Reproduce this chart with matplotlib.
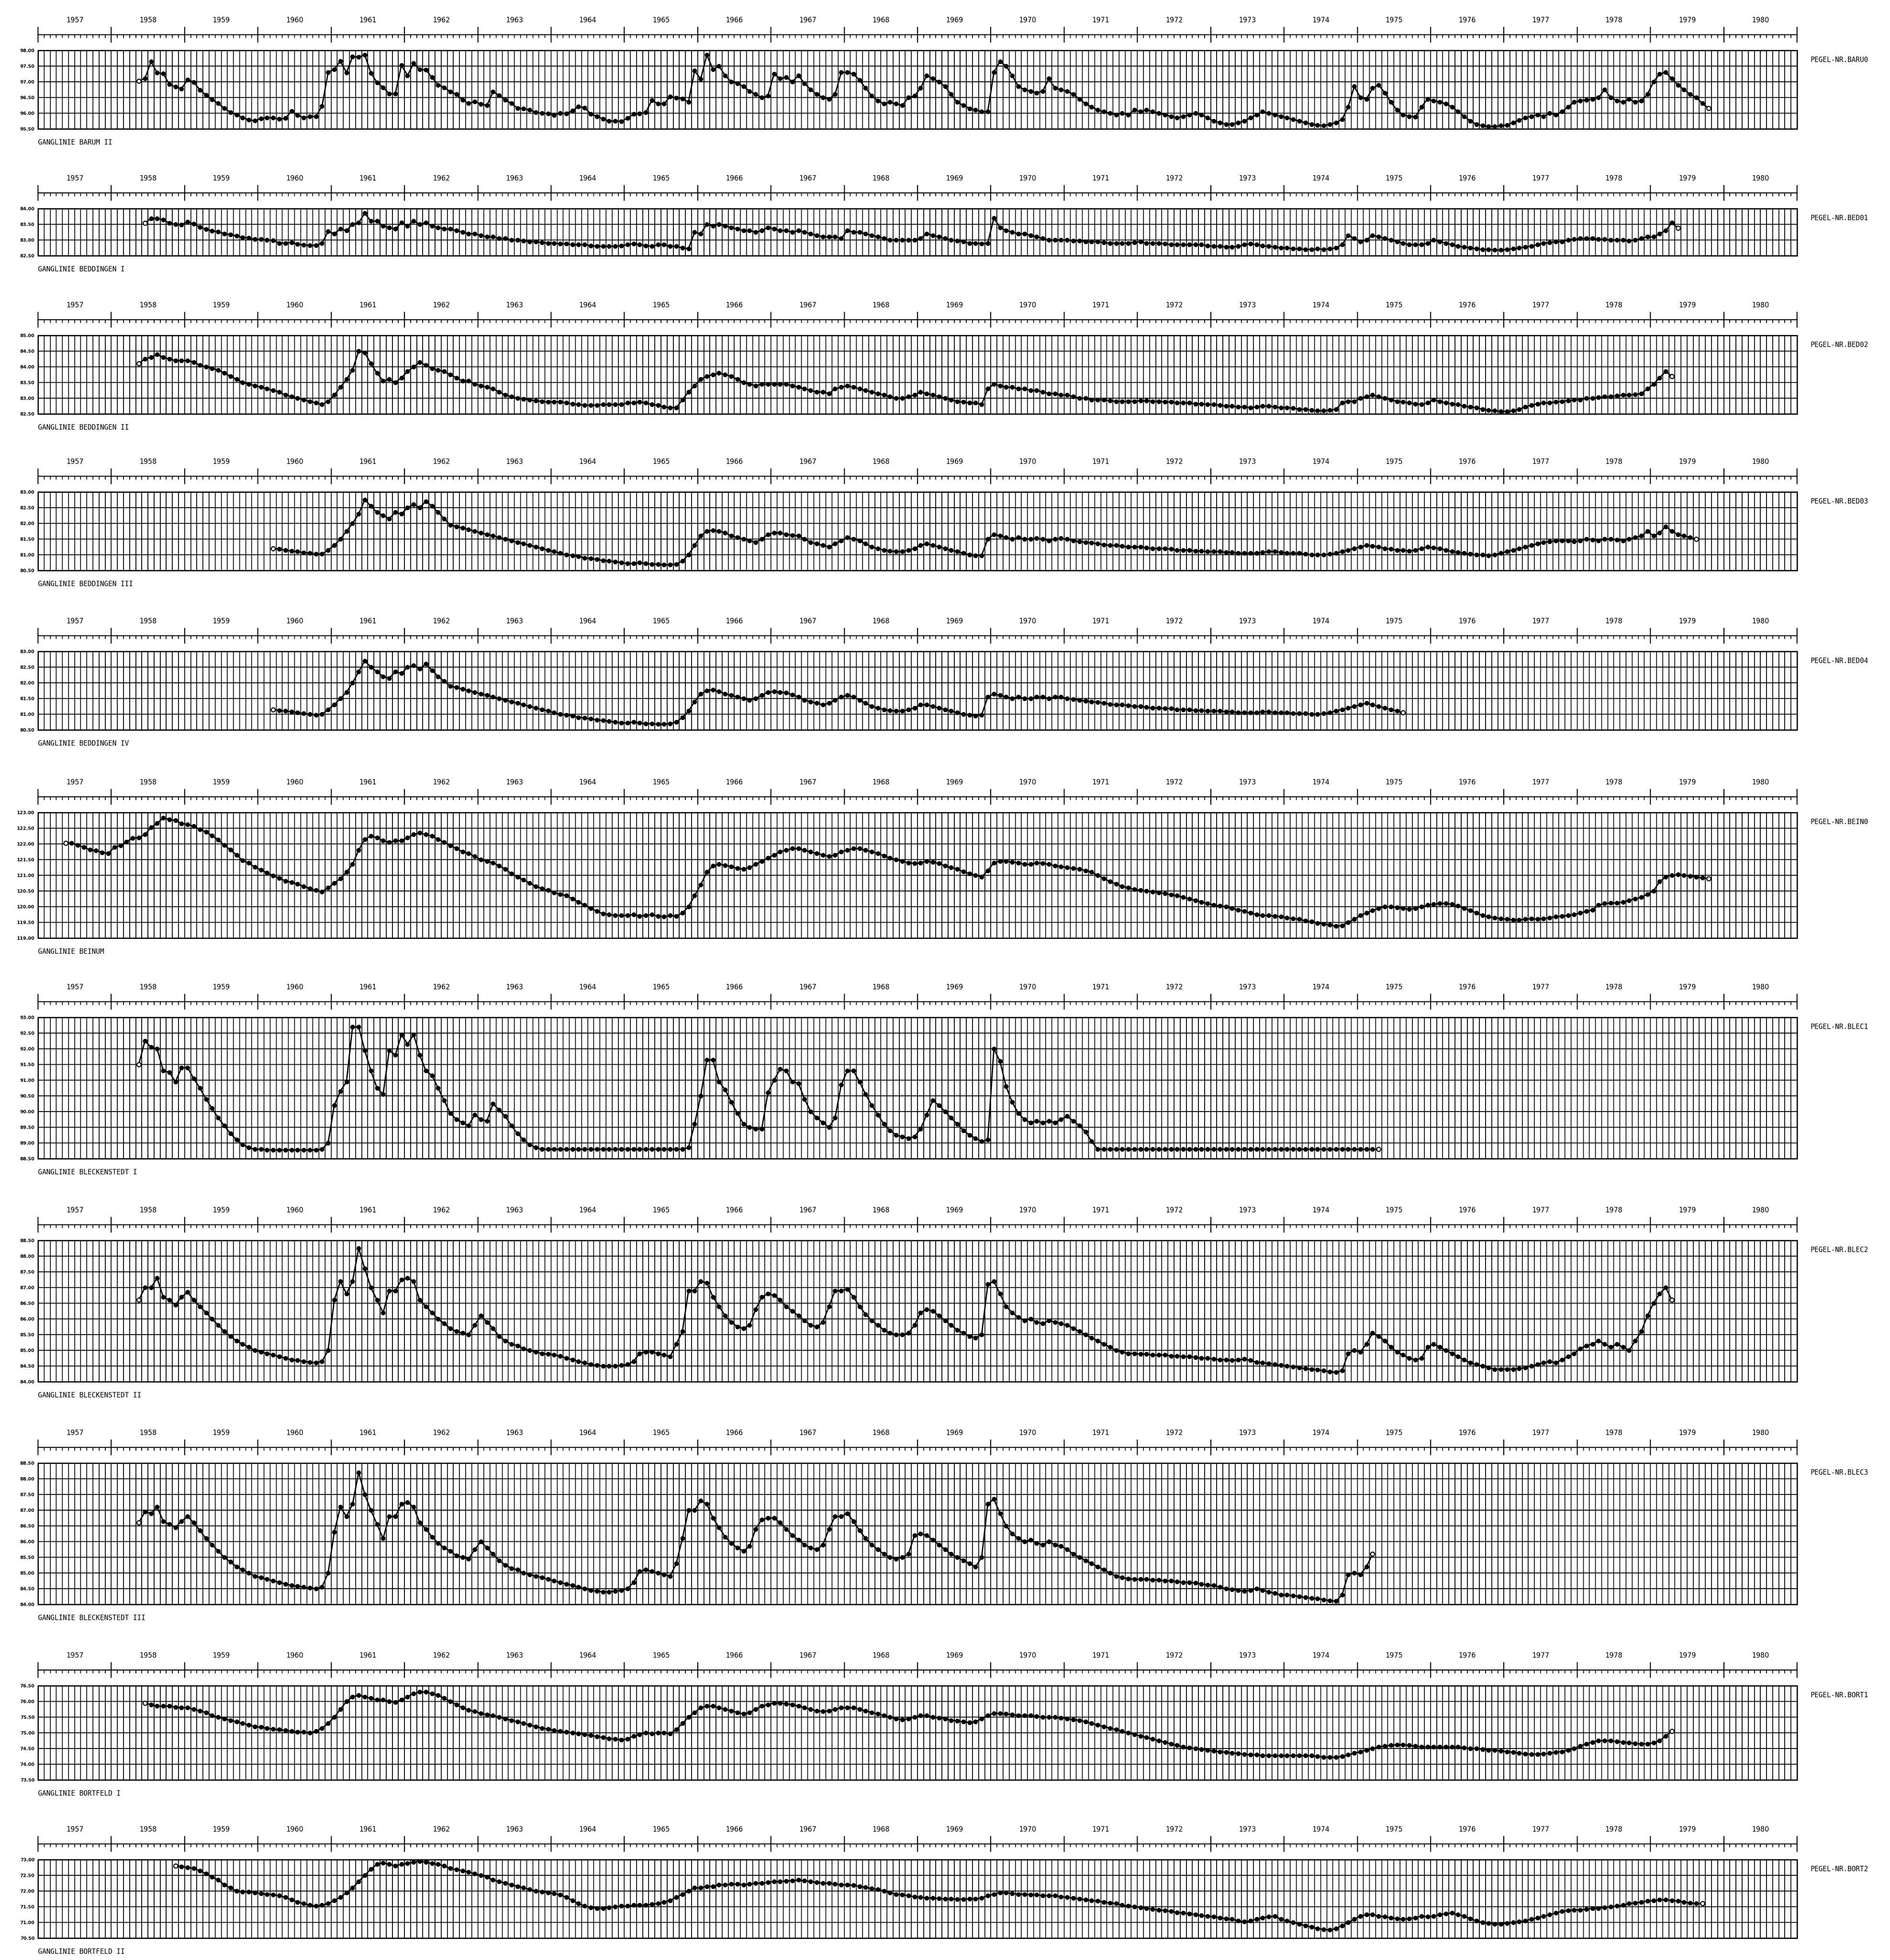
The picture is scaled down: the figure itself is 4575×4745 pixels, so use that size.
import matplotlib
matplotlib.use("Agg")
import matplotlib.pyplot as plt
from matplotlib.ticker import MultipleLocator, FormatStrFormatter
import numpy as np

plt.rcParams['font.family'] = ['DejaVu Sans']

years = list(range(1957, 1981))

# ---- data: monthly water levels, start = (year, month of first value) ----
baru0_start = (1958, 5)
baru0 = [
    97.03, 97.10, 97.64, 97.29, 97.26, 96.92, 96.84, 96.78,
    97.07, 96.99, 96.74, 96.58, 96.44, 96.31, 96.16, 96.03, 95.95, 95.86, 95.79, 95.76,
    95.83, 95.86, 95.85, 95.81, 95.84, 96.06, 95.93, 95.86, 95.89, 95.90, 96.22, 97.30,
    97.40, 97.66, 97.29, 97.80, 97.79, 97.86, 97.28, 96.98, 96.82, 96.62, 96.62, 97.53,
    97.20, 97.59, 97.39, 97.38, 97.14, 96.90, 96.82, 96.68, 96.60, 96.42, 96.31, 96.37,
    96.29, 96.25, 96.68, 96.57, 96.42, 96.31, 96.16, 96.14, 96.11, 96.02, 96.00, 95.99,
    95.94, 96.00, 95.99, 96.08, 96.21, 96.17, 95.98, 95.90, 95.82, 95.75, 95.75, 95.74,
    95.84, 95.97, 95.99, 96.02, 96.41, 96.30, 96.30, 96.53, 96.49, 96.46, 96.36, 97.35,
    97.09, 97.85, 97.40, 97.50, 97.20, 97.00, 96.95, 96.85, 96.70, 96.60, 96.50, 96.55,
    97.25, 97.10, 97.15, 97.00, 97.20, 96.95, 96.75, 96.60, 96.50, 96.45, 96.60, 97.30,
    97.30, 97.25, 97.05, 96.80, 96.55, 96.40, 96.30, 96.35, 96.30, 96.25, 96.50, 96.55,
    96.80, 97.20, 97.10, 97.00, 96.85, 96.60, 96.35, 96.25, 96.15, 96.10, 96.05, 96.05,
    97.30, 97.65, 97.50, 97.20, 96.85, 96.75, 96.70, 96.65, 96.70, 97.10, 96.80, 96.75,
    96.70, 96.60, 96.45, 96.30, 96.20, 96.10, 96.05, 96.00, 95.95, 96.00, 95.95, 96.10,
    96.05, 96.10, 96.05, 96.00, 95.95, 95.90, 95.85, 95.90, 95.95, 96.00, 95.95, 95.85,
    95.75, 95.70, 95.65, 95.65, 95.70, 95.75, 95.85, 95.95, 96.05, 96.00, 95.95, 95.90,
    95.85, 95.80, 95.75, 95.70, 95.65, 95.62, 95.60, 95.65, 95.70, 95.80, 96.20, 96.85,
    96.50, 96.45, 96.80, 96.90, 96.65, 96.35, 96.10, 95.95, 95.90, 95.88, 96.20, 96.45,
    96.40, 96.35, 96.30, 96.20, 96.05, 95.90, 95.75, 95.65, 95.60, 95.58, 95.58, 95.60,
    95.62, 95.70, 95.78, 95.85, 95.90, 95.95, 95.90, 96.00, 95.95, 96.05, 96.20, 96.35,
    96.40, 96.42, 96.45, 96.50, 96.75, 96.50, 96.40, 96.35, 96.45, 96.35, 96.40, 96.60,
    97.00, 97.25, 97.30, 97.10, 96.90, 96.75, 96.60, 96.50, 96.31, 96.16,
]

bed01_start = (1958, 6)
bed01 = [
    83.54, 83.69, 83.69, 83.64, 83.54, 83.50, 83.49,
    83.58, 83.51, 83.41, 83.34, 83.29, 83.26, 83.20, 83.17, 83.13, 83.08, 83.07, 83.02,
    83.02, 83.00, 82.99, 82.90, 82.90, 82.92, 82.87, 82.84, 82.83, 82.83, 82.90, 83.27,
    83.20, 83.35, 83.30, 83.50, 83.55, 83.85, 83.60, 83.60, 83.45, 83.40, 83.35, 83.55,
    83.45, 83.60, 83.50, 83.55, 83.45, 83.40, 83.35, 83.35, 83.30, 83.25, 83.20, 83.20,
    83.15, 83.10, 83.10, 83.05, 83.05, 83.00, 83.00, 82.98, 82.95, 82.95, 82.92, 82.90,
    82.90, 82.88, 82.88, 82.85, 82.85, 82.85, 82.82, 82.80, 82.80, 82.80, 82.80, 82.82,
    82.85, 82.88, 82.85, 82.82, 82.80, 82.85, 82.85, 82.80, 82.80, 82.75, 82.72, 83.25,
    83.20, 83.50, 83.45, 83.50, 83.45, 83.40, 83.35, 83.30, 83.30, 83.25, 83.30, 83.40,
    83.35, 83.30, 83.30, 83.25, 83.30, 83.25, 83.20, 83.15, 83.10, 83.10, 83.10, 83.05,
    83.30, 83.25, 83.25, 83.20, 83.15, 83.10, 83.05, 83.00, 83.00, 83.00, 83.00, 83.00,
    83.05, 83.20, 83.15, 83.10, 83.05, 83.00, 82.98, 82.95, 82.90, 82.90, 82.88, 82.90,
    83.70, 83.40, 83.30, 83.25, 83.20, 83.20, 83.15, 83.10, 83.05, 83.00, 83.00, 83.00,
    83.00, 82.98, 82.98, 82.95, 82.95, 82.95, 82.92, 82.90, 82.90, 82.90, 82.90, 82.92,
    82.95, 82.90, 82.90, 82.90, 82.88, 82.85, 82.85, 82.85, 82.85, 82.85, 82.85, 82.82,
    82.80, 82.80, 82.78, 82.78, 82.80, 82.85, 82.88, 82.85, 82.82, 82.80, 82.78, 82.75,
    82.75, 82.72, 82.72, 82.70, 82.70, 82.72, 82.70, 82.72, 82.75, 82.85, 83.15, 83.05,
    82.95, 83.00, 83.15, 83.10, 83.05, 83.00, 82.95, 82.90, 82.85, 82.85, 82.85, 82.90,
    83.00, 82.95, 82.90, 82.85, 82.80, 82.78, 82.75, 82.72, 82.70, 82.70, 82.68, 82.68,
    82.70, 82.72, 82.75, 82.78, 82.80, 82.85, 82.90, 82.92, 82.95, 82.95, 83.00, 83.02,
    83.05, 83.05, 83.05, 83.02, 83.02, 83.00, 83.00, 83.00, 82.98, 83.00, 83.05, 83.10,
    83.10, 83.20, 83.30, 83.55, 83.38,
]

bed02_start = (1958, 5)
bed02 = [
    84.10, 84.25, 84.30, 84.40, 84.30, 84.25, 84.20, 84.20,
    84.20, 84.15, 84.05, 84.00, 83.95, 83.90, 83.80, 83.70, 83.60, 83.50, 83.45, 83.40,
    83.35, 83.30, 83.25, 83.20, 83.10, 83.05, 83.00, 82.95, 82.90, 82.85, 82.80, 82.90,
    83.10, 83.35, 83.60, 83.90, 84.50, 84.45, 84.10, 83.80, 83.55, 83.60, 83.50, 83.65,
    83.85, 84.00, 84.15, 84.05, 83.95, 83.90, 83.85, 83.75, 83.65, 83.55, 83.55, 83.45,
    83.40, 83.35, 83.30, 83.20, 83.10, 83.05, 83.00, 82.98, 82.95, 82.92, 82.90, 82.88,
    82.88, 82.88, 82.85, 82.82, 82.80, 82.78, 82.78, 82.78, 82.80, 82.80, 82.80, 82.80,
    82.85, 82.85, 82.88, 82.85, 82.80, 82.78, 82.72, 82.70, 82.70, 82.95, 83.20, 83.40,
    83.60, 83.70, 83.75, 83.80, 83.75, 83.70, 83.60, 83.50, 83.45, 83.40, 83.45, 83.45,
    83.45, 83.45, 83.45, 83.40, 83.35, 83.30, 83.25, 83.20, 83.20, 83.15, 83.30, 83.35,
    83.40, 83.35, 83.30, 83.25, 83.20, 83.15, 83.10, 83.05, 83.00, 83.00, 83.05, 83.10,
    83.20, 83.15, 83.10, 83.05, 83.00, 82.95, 82.90, 82.88, 82.85, 82.85, 82.80, 83.30,
    83.45, 83.40, 83.35, 83.35, 83.30, 83.30, 83.25, 83.25, 83.20, 83.15, 83.15, 83.10,
    83.10, 83.05, 83.00, 83.00, 82.95, 82.95, 82.95, 82.92, 82.90, 82.90, 82.90, 82.90,
    82.92, 82.92, 82.90, 82.90, 82.88, 82.88, 82.85, 82.85, 82.85, 82.82, 82.82, 82.80,
    82.80, 82.78, 82.75, 82.75, 82.72, 82.72, 82.70, 82.72, 82.75, 82.75, 82.72, 82.70,
    82.70, 82.68, 82.65, 82.65, 82.62, 82.60, 82.60, 82.62, 82.65, 82.85, 82.90, 82.90,
    83.00, 83.05, 83.10, 83.05, 83.00, 82.95, 82.90, 82.88, 82.85, 82.82, 82.80, 82.85,
    82.95, 82.90, 82.85, 82.82, 82.80, 82.75, 82.72, 82.70, 82.65, 82.62, 82.60, 82.58,
    82.58, 82.60, 82.65, 82.72, 82.78, 82.82, 82.85, 82.85, 82.88, 82.90, 82.92, 82.95,
    82.95, 83.00, 83.00, 83.02, 83.05, 83.05, 83.08, 83.10, 83.10, 83.12, 83.15, 83.30,
    83.45, 83.65, 83.85, 83.70,
]

bed03_start = (1960, 3)
bed03 = [
    81.20, 81.18, 81.15, 81.12, 81.10, 81.07, 81.05, 81.03, 81.02, 81.15,
    81.30, 81.50, 81.75, 82.00, 82.30, 82.75, 82.55, 82.35, 82.25, 82.15, 82.35, 82.30,
    82.50, 82.60, 82.50, 82.70, 82.55, 82.35, 82.15, 81.95, 81.90, 81.85, 81.80, 81.75,
    81.70, 81.65, 81.60, 81.55, 81.50, 81.45, 81.40, 81.35, 81.30, 81.25, 81.20, 81.15,
    81.10, 81.05, 81.00, 80.98, 80.95, 80.90, 80.88, 80.85, 80.82, 80.80, 80.78, 80.75,
    80.72, 80.72, 80.75, 80.72, 80.70, 80.70, 80.68, 80.68, 80.70, 80.80, 81.00, 81.30,
    81.60, 81.75, 81.78, 81.75, 81.70, 81.60, 81.55, 81.50, 81.45, 81.40, 81.50, 81.65,
    81.70, 81.70, 81.65, 81.62, 81.60, 81.50, 81.40, 81.35, 81.30, 81.25, 81.35, 81.45,
    81.55, 81.50, 81.45, 81.35, 81.25, 81.20, 81.15, 81.12, 81.10, 81.10, 81.15, 81.20,
    81.30, 81.35, 81.30, 81.25, 81.20, 81.15, 81.10, 81.05, 81.00, 80.98, 80.98, 81.50,
    81.65, 81.60, 81.55, 81.50, 81.55, 81.50, 81.50, 81.52, 81.50, 81.45, 81.50, 81.52,
    81.50, 81.45, 81.42, 81.40, 81.38, 81.35, 81.32, 81.30, 81.30, 81.28, 81.25, 81.25,
    81.25, 81.22, 81.20, 81.20, 81.20, 81.18, 81.15, 81.15, 81.15, 81.12, 81.12, 81.10,
    81.10, 81.10, 81.08, 81.08, 81.05, 81.05, 81.05, 81.05, 81.08, 81.10, 81.10, 81.08,
    81.05, 81.05, 81.05, 81.02, 81.00, 81.00, 81.00, 81.02, 81.05, 81.10, 81.15, 81.20,
    81.25, 81.30, 81.28, 81.25, 81.20, 81.18, 81.15, 81.15, 81.12, 81.15, 81.20, 81.25,
    81.22, 81.20, 81.15, 81.10, 81.08, 81.05, 81.02, 81.00, 81.00, 80.98, 81.00, 81.05,
    81.10, 81.15, 81.20, 81.25, 81.30, 81.35, 81.40, 81.42, 81.45, 81.45, 81.45, 81.42,
    81.45, 81.50, 81.48, 81.45, 81.50, 81.50, 81.48, 81.45, 81.50, 81.55, 81.60, 81.75,
    81.60, 81.70, 81.90, 81.75, 81.65, 81.60, 81.55, 81.50,
]

bed04_start = (1960, 3)
bed04 = [
    81.15, 81.12, 81.10, 81.08, 81.05, 81.02, 81.00, 80.98, 81.00, 81.15,
    81.30, 81.50, 81.70, 82.00, 82.35, 82.70, 82.50, 82.35, 82.20, 82.15, 82.35, 82.30,
    82.50, 82.55, 82.45, 82.60, 82.40, 82.20, 82.05, 81.90, 81.85, 81.80, 81.75, 81.70,
    81.65, 81.60, 81.55, 81.50, 81.45, 81.40, 81.35, 81.30, 81.25, 81.20, 81.15, 81.10,
    81.05, 81.00, 80.98, 80.95, 80.90, 80.88, 80.85, 80.82, 80.80, 80.78, 80.75, 80.72,
    80.72, 80.75, 80.72, 80.70, 80.70, 80.68, 80.68, 80.70, 80.75, 80.90, 81.10, 81.40,
    81.65, 81.75, 81.78, 81.72, 81.65, 81.60, 81.55, 81.50, 81.45, 81.50, 81.60, 81.70,
    81.72, 81.70, 81.68, 81.62, 81.55, 81.45, 81.40, 81.35, 81.30, 81.35, 81.45, 81.55,
    81.60, 81.55, 81.45, 81.35, 81.25, 81.20, 81.15, 81.12, 81.10, 81.10, 81.15, 81.20,
    81.30, 81.30, 81.25, 81.20, 81.15, 81.10, 81.05, 81.00, 80.98, 80.95, 80.98, 81.55,
    81.65, 81.60, 81.55, 81.50, 81.55, 81.50, 81.50, 81.55, 81.55, 81.50, 81.55, 81.55,
    81.50, 81.48, 81.45, 81.42, 81.40, 81.38, 81.35, 81.32, 81.30, 81.30, 81.28, 81.25,
    81.25, 81.22, 81.20, 81.20, 81.18, 81.18, 81.15, 81.15, 81.15, 81.12, 81.12, 81.10,
    81.10, 81.10, 81.08, 81.08, 81.05, 81.05, 81.05, 81.05, 81.08, 81.08, 81.05, 81.05,
    81.05, 81.03, 81.02, 81.02, 81.00, 81.00, 81.02, 81.05, 81.10, 81.15, 81.20, 81.25,
    81.30, 81.35, 81.30, 81.25, 81.20, 81.15, 81.10, 81.05,
]

bein0_start = (1957, 5)
bein0 = [
    122.03, 122.03, 121.96, 121.90, 121.81, 121.79, 121.73, 121.70,
    121.89, 121.95, 122.07, 122.18, 122.20, 122.30, 122.52, 122.66, 122.83, 122.78, 122.75, 122.65,
    122.62, 122.56, 122.46, 122.38, 122.26, 122.13, 121.96, 121.81, 121.65, 121.47, 121.39, 121.26,
    121.17, 121.08, 120.99, 120.91, 120.82, 120.78, 120.72, 120.65, 120.58, 120.52, 120.48, 120.60,
    120.75, 120.90, 121.10, 121.35, 121.80, 122.15, 122.25, 122.20, 122.10, 122.05, 122.10, 122.10,
    122.20, 122.30, 122.35, 122.30, 122.25, 122.15, 122.05, 121.95, 121.85, 121.75, 121.70, 121.60,
    121.50, 121.45, 121.40, 121.30, 121.20, 121.05, 120.95, 120.85, 120.75, 120.65, 120.58, 120.52,
    120.45, 120.40, 120.35, 120.25, 120.15, 120.05, 119.95, 119.85, 119.78, 119.75, 119.72, 119.72,
    119.72, 119.75, 119.70, 119.72, 119.75, 119.70, 119.68, 119.72, 119.70, 119.80, 120.00, 120.35,
    120.70, 121.10, 121.30, 121.35, 121.32, 121.28, 121.22, 121.20, 121.25, 121.35, 121.45, 121.55,
    121.65, 121.75, 121.80, 121.85, 121.85, 121.80, 121.75, 121.70, 121.65, 121.60, 121.65, 121.75,
    121.80, 121.85, 121.85, 121.80, 121.75, 121.70, 121.62, 121.55, 121.50, 121.45, 121.40, 121.38,
    121.40, 121.45, 121.42, 121.38, 121.30, 121.25, 121.20, 121.12, 121.05, 121.00, 120.95, 121.15,
    121.40, 121.45, 121.45, 121.42, 121.40, 121.35, 121.35, 121.40, 121.38, 121.35, 121.30, 121.28,
    121.25, 121.22, 121.20, 121.15, 121.10, 121.00, 120.90, 120.80, 120.72, 120.65, 120.60, 120.55,
    120.52, 120.50, 120.48, 120.45, 120.42, 120.38, 120.35, 120.30, 120.25, 120.20, 120.15, 120.10,
    120.05, 120.02, 120.00, 119.95, 119.90, 119.85, 119.80, 119.75, 119.72, 119.72, 119.70, 119.68,
    119.65, 119.62, 119.60, 119.55, 119.52, 119.48, 119.45, 119.42, 119.38, 119.40, 119.50, 119.60,
    119.72, 119.80, 119.88, 119.95, 120.00, 120.00, 119.98, 119.95, 119.92, 119.95, 120.00, 120.05,
    120.08, 120.10, 120.10, 120.08, 120.02, 119.95, 119.88, 119.80, 119.72, 119.68, 119.65, 119.62,
    119.60, 119.58, 119.58, 119.60, 119.62, 119.60, 119.62, 119.65, 119.68, 119.70, 119.72, 119.75,
    119.80, 119.85, 119.90, 120.05, 120.10, 120.12, 120.12, 120.15, 120.20, 120.25, 120.30, 120.40,
    120.50, 120.80, 120.95, 121.00, 121.02, 121.00, 120.98, 120.95, 120.92, 120.90,
]

blec1_start = (1958, 5)
blec1 = [
    91.50, 92.25, 92.05, 92.00, 91.30, 91.25, 90.95, 91.40,
    91.40, 91.05, 90.75, 90.40, 90.10, 89.80, 89.55, 89.30, 89.10, 88.95, 88.85, 88.80,
    88.80, 88.78, 88.78, 88.78, 88.78, 88.78, 88.78, 88.78, 88.78, 88.78, 88.80, 89.00,
    90.20, 90.65, 90.95, 92.70, 92.70, 91.95, 91.30, 90.75, 90.55, 91.95, 91.80, 92.45,
    92.15, 92.45, 91.80, 91.30, 91.15, 90.75, 90.35, 89.95, 89.75, 89.65, 89.55, 89.90,
    89.75, 89.70, 90.25, 90.05, 89.85, 89.55, 89.30, 89.10, 88.95, 88.85, 88.80, 88.80,
    88.80, 88.80, 88.80, 88.80, 88.80, 88.80, 88.80, 88.80, 88.80, 88.80, 88.80, 88.80,
    88.80, 88.80, 88.80, 88.80, 88.80, 88.80, 88.80, 88.80, 88.80, 88.80, 88.85, 89.60,
    90.50, 91.65, 91.65, 90.95, 90.70, 90.30, 89.95, 89.60, 89.50, 89.45, 89.45, 90.60,
    91.00, 91.35, 91.30, 90.95, 90.90, 90.40, 90.00, 89.80, 89.65, 89.50, 89.80, 90.85,
    91.30, 91.30, 90.95, 90.55, 90.20, 89.90, 89.60, 89.40, 89.25, 89.20, 89.15, 89.20,
    89.45, 89.90, 90.35, 90.20, 90.00, 89.80, 89.60, 89.40, 89.25, 89.15, 89.05, 89.10,
    92.00, 91.60, 90.80, 90.30, 89.95, 89.75, 89.65, 89.70, 89.65, 89.70, 89.65, 89.75,
    89.85, 89.70, 89.55, 89.35, 89.05, 88.80, 88.80, 88.80, 88.80, 88.80, 88.80, 88.80,
    88.80, 88.80, 88.80, 88.80, 88.80, 88.80, 88.80, 88.80, 88.80, 88.80, 88.80, 88.80,
    88.80, 88.80, 88.80, 88.80, 88.80, 88.80, 88.80, 88.80, 88.80, 88.80, 88.80, 88.80,
    88.80, 88.80, 88.80, 88.80, 88.80, 88.80, 88.80, 88.80, 88.80, 88.80, 88.80, 88.80,
    88.80, 88.80, 88.80, 88.80,
]

blec2_start = (1958, 5)
blec2 = [
    86.60, 87.00, 87.00, 87.30, 86.70, 86.60, 86.45, 86.70,
    86.85, 86.60, 86.40, 86.20, 86.00, 85.80, 85.60, 85.45, 85.30, 85.20, 85.10, 85.00,
    84.95, 84.90, 84.85, 84.80, 84.75, 84.70, 84.68, 84.65, 84.62, 84.60, 84.65, 85.00,
    86.60, 87.20, 86.80, 87.20, 88.25, 87.60, 87.00, 86.60, 86.20, 86.90, 86.90, 87.25,
    87.30, 87.20, 86.60, 86.40, 86.20, 86.00, 85.85, 85.70, 85.60, 85.55, 85.50, 85.80,
    86.10, 85.90, 85.70, 85.45, 85.30, 85.20, 85.15, 85.05, 85.00, 84.95, 84.90, 84.88,
    84.85, 84.82, 84.75, 84.70, 84.65, 84.60, 84.55, 84.52, 84.50, 84.50, 84.50, 84.52,
    84.55, 84.65, 84.90, 84.95, 84.95, 84.90, 84.85, 84.80, 85.20, 85.60, 86.90, 86.90,
    87.20, 87.15, 86.70, 86.40, 86.10, 85.90, 85.75, 85.70, 85.80, 86.30, 86.70, 86.80,
    86.75, 86.60, 86.40, 86.25, 86.10, 85.95, 85.80, 85.75, 85.90, 86.40, 86.90, 86.90,
    86.95, 86.70, 86.40, 86.15, 85.95, 85.80, 85.65, 85.55, 85.50, 85.50, 85.55, 85.80,
    86.20, 86.30, 86.25, 86.10, 85.95, 85.80, 85.65, 85.55, 85.45, 85.40, 85.50, 87.10,
    87.20, 86.80, 86.40, 86.20, 86.05, 85.95, 86.00, 85.90, 85.85, 85.95, 85.90, 85.85,
    85.80, 85.70, 85.60, 85.50, 85.40, 85.30, 85.20, 85.10, 85.00, 84.95, 84.90, 84.90,
    84.88, 84.88, 84.85, 84.85, 84.85, 84.82, 84.82, 84.80, 84.80, 84.78, 84.75, 84.75,
    84.72, 84.70, 84.70, 84.68, 84.70, 84.72, 84.68, 84.62, 84.60, 84.58, 84.55, 84.52,
    84.50, 84.48, 84.45, 84.42, 84.40, 84.38, 84.35, 84.32, 84.30, 84.35, 84.90, 85.00,
    84.95, 85.20, 85.55, 85.45, 85.30, 85.10, 84.95, 84.85, 84.75, 84.70, 84.75, 85.10,
    85.20, 85.10, 85.00, 84.90, 84.80, 84.70, 84.60, 84.55, 84.50, 84.45, 84.40, 84.40,
    84.40, 84.40, 84.42, 84.45, 84.50, 84.55, 84.60, 84.65, 84.60, 84.70, 84.80, 84.90,
    85.05, 85.15, 85.20, 85.30, 85.20, 85.10, 85.20, 85.10, 85.00, 85.30, 85.60, 86.10,
    86.50, 86.80, 87.00, 86.60,
]

blec3_start = (1958, 5)
blec3 = [
    86.60, 86.95, 86.90, 87.10, 86.65, 86.55, 86.45, 86.65,
    86.80, 86.60, 86.35, 86.10, 85.90, 85.70, 85.50, 85.35, 85.20, 85.10, 85.00, 84.90,
    84.85, 84.80, 84.75, 84.70, 84.65, 84.60, 84.58, 84.55, 84.52, 84.50, 84.55, 85.00,
    86.30, 87.10, 86.80, 87.20, 88.20, 87.50, 87.00, 86.55, 86.10, 86.80, 86.80, 87.20,
    87.25, 87.10, 86.60, 86.40, 86.15, 85.95, 85.80, 85.70, 85.55, 85.50, 85.45, 85.75,
    86.00, 85.80, 85.60, 85.40, 85.25, 85.15, 85.10, 85.00, 84.95, 84.90, 84.85, 84.80,
    84.75, 84.70, 84.65, 84.60, 84.55, 84.50, 84.45, 84.42, 84.40, 84.40, 84.42, 84.45,
    84.50, 84.70, 85.05, 85.10, 85.05, 85.00, 84.95, 84.90, 85.30, 86.10, 87.00, 87.00,
    87.30, 87.20, 86.75, 86.45, 86.15, 85.95, 85.80, 85.70, 85.85, 86.40, 86.70, 86.75,
    86.75, 86.60, 86.40, 86.20, 86.05, 85.90, 85.80, 85.75, 85.90, 86.40, 86.80, 86.80,
    86.90, 86.65, 86.35, 86.10, 85.90, 85.75, 85.60, 85.50, 85.45, 85.50, 85.60, 86.20,
    86.25, 86.20, 86.05, 85.90, 85.75, 85.60, 85.50, 85.40, 85.30, 85.20, 85.50, 87.20,
    87.35, 86.90, 86.50, 86.25, 86.10, 86.00, 86.05, 85.95, 85.90, 86.00, 85.90, 85.85,
    85.75, 85.60, 85.50, 85.40, 85.30, 85.20, 85.10, 85.00, 84.90, 84.85, 84.82, 84.80,
    84.80, 84.80, 84.78, 84.78, 84.75, 84.75, 84.72, 84.70, 84.70, 84.68, 84.65, 84.62,
    84.60, 84.55, 84.50, 84.48, 84.45, 84.42, 84.45, 84.50, 84.45, 84.40, 84.35, 84.30,
    84.30, 84.28, 84.25, 84.22, 84.20, 84.18, 84.15, 84.12, 84.10, 84.30, 84.95, 85.00,
    84.95, 85.20, 85.60,
]

bort1_start = (1958, 6)
bort1 = [
    75.95, 75.90, 75.85, 75.85, 75.85, 75.82, 75.80,
    75.80, 75.75, 75.70, 75.65, 75.55, 75.50, 75.45, 75.40, 75.35, 75.30, 75.25, 75.20,
    75.18, 75.15, 75.12, 75.10, 75.08, 75.05, 75.03, 75.02, 75.00, 75.05, 75.15, 75.30,
    75.50, 75.75, 76.00, 76.15, 76.20, 76.15, 76.10, 76.05, 76.05, 76.00, 75.98, 76.05,
    76.15, 76.25, 76.30, 76.30, 76.25, 76.20, 76.10, 76.00, 75.90, 75.80, 75.72, 75.68,
    75.62, 75.58, 75.55, 75.50, 75.45, 75.40, 75.35, 75.30, 75.25, 75.20, 75.15, 75.12,
    75.08, 75.05, 75.02, 75.00, 74.98, 74.95, 74.92, 74.88, 74.85, 74.82, 74.80, 74.78,
    74.80, 74.90, 74.95, 75.00, 74.98, 75.00, 75.00, 74.98, 75.10, 75.30, 75.50, 75.65,
    75.80, 75.85, 75.85, 75.80, 75.75, 75.70, 75.65, 75.60, 75.65, 75.75, 75.85, 75.90,
    75.95, 75.95, 75.92, 75.90, 75.85, 75.80, 75.75, 75.70, 75.68, 75.70, 75.75, 75.80,
    75.80, 75.80, 75.75, 75.70, 75.65, 75.60, 75.55, 75.50, 75.45, 75.42, 75.45, 75.50,
    75.55, 75.55, 75.50, 75.48, 75.45, 75.40, 75.38, 75.35, 75.33, 75.35, 75.45, 75.55,
    75.62, 75.62, 75.60, 75.58, 75.55, 75.55, 75.55, 75.52, 75.50, 75.50, 75.50, 75.48,
    75.45, 75.42, 75.40, 75.35, 75.30, 75.25, 75.20, 75.15, 75.10, 75.05, 75.00, 74.95,
    74.90, 74.85, 74.80, 74.75, 74.70, 74.65, 74.60, 74.55, 74.52, 74.50, 74.48, 74.45,
    74.42, 74.40, 74.38, 74.36, 74.34, 74.32, 74.30, 74.30, 74.28, 74.28, 74.27, 74.27,
    74.27, 74.27, 74.28, 74.27, 74.27, 74.25, 74.23, 74.22, 74.22, 74.25, 74.30, 74.35,
    74.40, 74.45, 74.50, 74.55, 74.58, 74.60, 74.62, 74.62, 74.60, 74.58, 74.55, 74.55,
    74.55, 74.55, 74.55, 74.55, 74.55, 74.52, 74.50, 74.50, 74.48, 74.45, 74.45, 74.42,
    74.40, 74.38, 74.35, 74.33, 74.32, 74.32, 74.33, 74.35, 74.38, 74.40, 74.45, 74.50,
    74.58, 74.65, 74.70, 74.75, 74.75, 74.75, 74.72, 74.70, 74.68, 74.66, 74.65, 74.65,
    74.68, 74.75, 74.90, 75.05,
]

bort2_start = (1958, 11)
bort2 = [
    72.80, 72.78,
    72.75, 72.72, 72.65, 72.55, 72.45, 72.35, 72.20, 72.10, 72.00, 71.98, 71.97, 71.95,
    71.92, 71.90, 71.88, 71.85, 71.80, 71.72, 71.65, 71.60, 71.55, 71.52, 71.55, 71.60,
    71.70, 71.80, 71.95, 72.10, 72.30, 72.50, 72.70, 72.85, 72.90, 72.85, 72.80, 72.85,
    72.88, 72.92, 72.95, 72.92, 72.88, 72.85, 72.80, 72.72, 72.68, 72.65, 72.60, 72.55,
    72.50, 72.45, 72.35, 72.30, 72.25, 72.20, 72.15, 72.10, 72.05, 72.00, 71.98, 71.95,
    71.92, 71.88, 71.80, 71.70, 71.60, 71.52, 71.48, 71.45, 71.45, 71.48, 71.50, 71.52,
    71.52, 71.55, 71.55, 71.55, 71.58, 71.60, 71.65, 71.70, 71.80, 71.90, 72.00, 72.10,
    72.10, 72.15, 72.15, 72.20, 72.20, 72.22, 72.22, 72.20, 72.22, 72.25, 72.25, 72.28,
    72.30, 72.30, 72.32, 72.33, 72.35, 72.33, 72.30, 72.28, 72.25, 72.25, 72.22, 72.20,
    72.20, 72.18, 72.15, 72.12, 72.08, 72.05, 72.00, 71.95, 71.90, 71.88, 71.85, 71.82,
    71.80, 71.78, 71.78, 71.76, 71.75, 71.75, 71.74, 71.74, 71.75, 71.75, 71.78, 71.85,
    71.90, 71.95, 71.95, 71.92, 71.90, 71.90, 71.88, 71.88, 71.85, 71.85, 71.85, 71.82,
    71.80, 71.78, 71.75, 71.72, 71.70, 71.68, 71.65, 71.62, 71.60, 71.55, 71.52, 71.50,
    71.48, 71.45, 71.42, 71.40, 71.38, 71.35, 71.32, 71.30, 71.28, 71.25, 71.22, 71.20,
    71.18, 71.15, 71.12, 71.10, 71.05, 71.02, 71.05, 71.10, 71.15, 71.18, 71.20, 71.10,
    71.05, 71.00, 70.95, 70.90, 70.85, 70.80, 70.78, 70.76, 70.80, 70.90, 71.00, 71.10,
    71.20, 71.25, 71.25, 71.20, 71.18, 71.15, 71.12, 71.10, 71.12, 71.15, 71.20, 71.18,
    71.20, 71.25, 71.28, 71.30, 71.25, 71.20, 71.12, 71.05, 71.00, 70.97, 70.95, 70.95,
    70.97, 71.00, 71.02, 71.05, 71.10, 71.15, 71.20, 71.25, 71.30, 71.35, 71.38, 71.40,
    71.40, 71.42, 71.45, 71.45, 71.48, 71.50, 71.52, 71.55, 71.60, 71.62, 71.65, 71.68,
    71.70, 71.72, 71.72, 71.70, 71.68, 71.65, 71.62, 71.60, 71.60,
]

pegel_labels = ["PEGEL-NR.BARU0", "PEGEL-NR.BED01", "PEGEL-NR.BED02", "PEGEL-NR.BED03",
                "PEGEL-NR.BED04", "PEGEL-NR.BEIN0", "PEGEL-NR.BLEC1", "PEGEL-NR.BLEC2",
                "PEGEL-NR.BLEC3", "PEGEL-NR.BORT1", "PEGEL-NR.BORT2"]
titles = ["GANGLINIE BARUM II", "GANGLINIE BEDDINGEN I", "GANGLINIE BEDDINGEN II",
          "GANGLINIE BEDDINGEN III", "GANGLINIE BEDDINGEN IV", "GANGLINIE BEINUM",
          "GANGLINIE BLECKENSTEDT I", "GANGLINIE BLECKENSTEDT II", "GANGLINIE BLECKENSTEDT III",
          "GANGLINIE BORTFELD I", "GANGLINIE BORTFELD II"]
y_ranges = [(95.5, 98.0), (82.5, 84.0), (82.5, 85.0), (80.5, 83.0), (80.5, 83.0),
            (119.0, 123.0), (88.5, 93.0), (84.0, 88.5), (84.0, 88.5), (73.5, 76.5), (70.5, 73.0)]
series = [(baru0_start, baru0), (bed01_start, bed01), (bed02_start, bed02),
          (bed03_start, bed03), (bed04_start, bed04), (bein0_start, bein0),
          (blec1_start, blec1), (blec2_start, blec2), (blec3_start, blec3),
          (bort1_start, bort1), (bort2_start, bort2)]

# ---- layout (pixels) ----
W, H = 4575, 4745
LEFT, RIGHT = 92, 4350
box_tops = [122, 505, 812, 1191, 1577, 1967, 2463, 3003, 3542, 4081, 4502]
STEP = 38          # pixels per 0.5 m
pt = 72 / 100      # pixel -> point

fig = plt.figure(figsize=(W / 100, H / 100), dpi=100)
fig.patch.set_facecolor('white')

for i in range(len(series)):
    lo, hi = y_ranges[i]
    top = box_tops[i]
    h = round((hi - lo) / 0.5) * STEP

    ax = fig.add_axes([LEFT / W, 1 - (top + h) / H, (RIGHT - LEFT) / W, h / H])
    ax.set_xlim(1957, 1981)
    ax.set_ylim(lo, hi)
    ax.xaxis.set_major_locator(MultipleLocator(1))
    ax.xaxis.set_minor_locator(MultipleLocator(1 / 12))
    ax.yaxis.set_major_locator(MultipleLocator(0.5))
    ax.yaxis.set_major_formatter(FormatStrFormatter('%.2f'))
    ax.grid(which='both', axis='x', color='black', lw=2.0 * pt)
    ax.grid(which='major', axis='y', color='black', lw=2.2 * pt)
    ax.set_axisbelow(True)
    ax.tick_params(axis='x', which='both', length=0, labelbottom=False)
    ax.tick_params(axis='y', length=0, labelsize=8, pad=6)
    for lab in ax.get_yticklabels():
        lab.set_fontweight('bold')
    for s in ax.spines.values():
        s.set_linewidth(3 * pt)

    (y0, m0), vals = series[i]
    t = y0 + (m0 - 0.5 + np.arange(len(vals))) / 12
    ax.plot(t, vals, color='black', lw=3.2 * pt, marker='o', ms=10 * pt, zorder=3)
    ax.plot(t[[0, -1]], [vals[0], vals[-1]], 'o', color='black', mfc='white',
            ms=10 * pt, mew=2.5 * pt, zorder=4)

    # year scale above the box
    line_y = top - 38
    sx = fig.add_axes([LEFT / W, 1 - line_y / H, (RIGHT - LEFT) / W, 50 / H])
    sx.set_xlim(1957, 1981)
    sx.set_ylim(0, 1)
    sx.patch.set_visible(False)
    for k in ['top', 'left', 'right']:
        sx.spines[k].set_visible(False)
    sx.spines['bottom'].set_linewidth(2.5 * pt)
    sx.set_yticks([])
    sx.set_xticks(years + [1981])
    sx.xaxis.set_minor_locator(MultipleLocator(1 / 12))
    sx.tick_params(axis='x', which='major', direction='inout', length=38 * pt,
                   width=2.5 * pt, labelbottom=False)
    sx.tick_params(axis='x', which='minor', direction='out', length=8 * pt, width=2 * pt)
    for y in years:
        sx.text(y + 0.5, 35 / 50, str(y), ha='center', va='center', fontsize=12)

    fig.text((RIGHT + 32) / W, 1 - (top + 23) / H, pegel_labels[i], fontsize=12,
             family='DejaVu Sans Mono', ha='left', va='center')
    fig.text(LEFT / W, 1 - (top + h + 33) / H, titles[i], fontsize=12,
             family='DejaVu Sans Mono', ha='left', va='center')

fig.savefig('out.png', dpi=100, facecolor='white')
